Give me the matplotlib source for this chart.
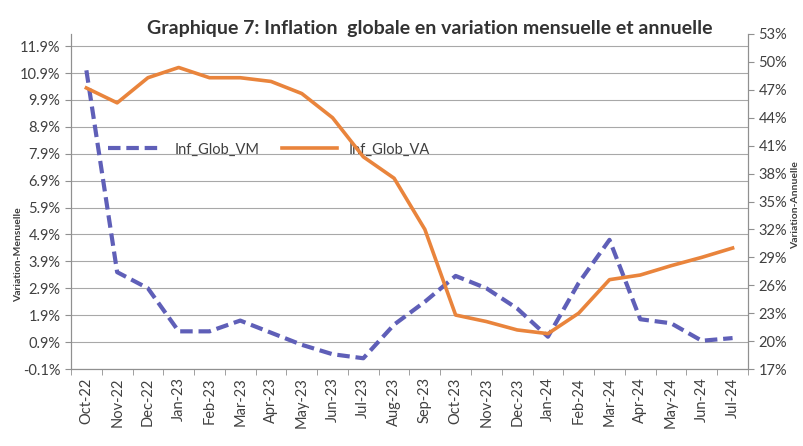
import matplotlib.pyplot as plt
import numpy as np

# mois
mois = ['Oct-22', 'Nov-22', 'Dec-22', 'Jan-23', 'Feb-23', 'Mar-23', 'Apr-23',
        'May-23', 'Jun-23', 'Jul-23', 'Aug-23', 'Sep-23', 'Oct-23', 'Nov-23',
        'Dec-23', 'Jan-24', 'Feb-24', 'Mar-24', 'Apr-24', 'May-24', 'Jun-24',
        'Jul-24']

# variation mensuelle (%)
inf_glob_vm = [11.0, 3.5, 2.9, 1.3, 1.3, 1.7, 1.25, 0.8, 0.45, 0.3, 1.55, 2.4,
               3.36, 2.9, 2.15, 1.1, 3.1, 4.7, 1.75, 1.6, 0.95, 1.05]

# variation annuelle (%)
inf_glob_va = [47.2, 45.6, 48.3, 49.4, 48.3, 48.3, 47.9, 46.6, 44.0, 39.8, 37.5,
               32.0, 22.8, 22.1, 21.2, 20.8, 23.0, 26.6, 27.1, 28.1, 29.0, 30.0]

left_ticks = np.round(np.arange(-0.1, 12.0, 1.0), 1)
right_ticks = np.arange(17, 54, 3)

plt.rcParams['font.family'] = ['Lato', 'DejaVu Sans']
txt = '#404040'

fig = plt.figure(figsize=(8.04, 4.46), dpi=100)
ax = fig.add_axes([0.0883, 0.1726, 0.842, 0.7512])
ax2 = ax.twinx()

x = np.arange(len(mois))
l1, = ax.plot(x, inf_glob_vm, color='#5f5fb8', lw=3, dashes=(3, 1.4),
              label='Inf_Glob_VM', zorder=3)
l2, = ax2.plot(x, inf_glob_va, color='#e9843c', lw=2.6, label='Inf_Glob_VA',
               zorder=3)

ax.set_xlim(-0.5, len(mois) - 0.5)
ax.set_ylim(-0.1, 12.35)
ax2.set_ylim(17, 53)

ax.set_yticks(left_ticks)
ax.set_yticklabels([f'{v:.1f}%' for v in left_ticks])
ax2.set_yticks(right_ticks)
ax2.set_yticklabels([f'{v}%' for v in right_ticks])

ax.set_xticks(x)
ax.set_xticklabels(mois, rotation=90)
ax.set_xticks(np.arange(-0.5, len(mois), 1), minor=True)
ax.tick_params(axis='x', which='major', length=0, pad=6, labelsize=10.5, colors=txt)
ax.tick_params(axis='x', which='minor', length=4, color='#909090')
ax.tick_params(axis='y', length=4, color='#909090', labelsize=10.5, labelcolor=txt)
ax2.tick_params(axis='y', length=4, color='#909090', labelsize=10.5, labelcolor=txt)

ax.grid(True, axis='y', color='#a8a8a8', lw=0.8)
ax.set_axisbelow(True)

for a in (ax, ax2):
    a.spines['top'].set_visible(False)
    for s in ('left', 'right', 'bottom'):
        a.spines[s].set_color('#909090')
        a.spines[s].set_linewidth(0.8)

ax.set_ylabel('Variation-Mensuelle', fontsize=7.5, fontweight='bold', color=txt)
ax.yaxis.set_label_coords(-0.071, 0.34)

# titre de l'axe droit (placé à la main pour rester dans l'image)
fig.text(0.99, 0.54, 'Variation-Annuelle', rotation=90, ha='center', va='center',
         fontsize=7.5, fontweight='bold', color=txt)

ax.legend(handles=[l1, l2], loc='lower left', bbox_to_anchor=(0.035, 0.595),
          ncol=2, frameon=False, fontsize=10.5, handlelength=3.8,
          columnspacing=1.5, labelcolor=txt)

fig.text(0.535, 0.937, 'Graphique 7: Inflation  globale en variation mensuelle et annuelle',
         ha='center', va='center', fontsize=14, fontweight='bold', color='#333333')

plt.savefig('out.png', dpi=100)
